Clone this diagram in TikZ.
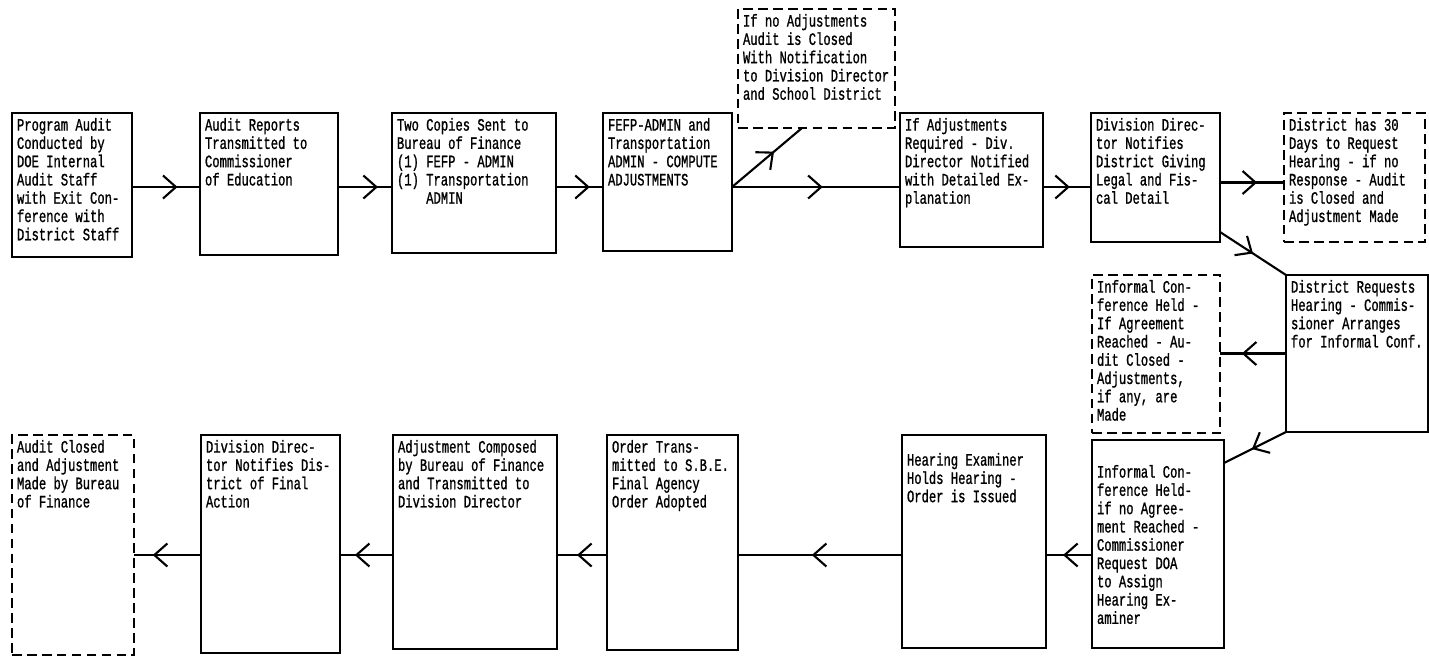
\documentclass[tikz,border=0pt]{standalone}
\usepackage{fontspec}
\newfontfamily\typewriter[FakeStretch=0.7, FakeBold=1]{Liberation Mono}
\usetikzlibrary{positioning,arrows.meta,decorations.markings}

\newcommand{\steptext}[3]{\parbox[t][#2][t]{#1}{\raggedright #3}}

\tikzstyle{stepnode} = [draw = black, line width = 1.4pt, inner sep = 0.1cm, outer sep = 0pt, font = \typewriter\fontsize{9.9}{10.4}\selectfont]
\tikzstyle{notenode} = [stepnode, line width = 1pt, dash pattern = on 5.5pt off 3pt]
\tikzset{flowline/.style = {line width = 1.2pt, decoration = {markings, mark = at position #1 with {\arrow{Straight Barb[length=2.6mm, width=4.6mm]}}}, postaction = {decorate}},
	flowline/.default = 0.65}

\begin{document}
\begin{tikzpicture}
			\useasboundingbox (0,0) rectangle (28.58,-13.12);
			\coordinate (row1) at (0,-3.74);
			\coordinate (row3) at (0,-11.1);
			% top row
			\node[stepnode, anchor = north west] (A) at (0.24,-2.26) {\steptext{2.20cm}{2.68cm}{Program Audit\\Conducted by\\DOE Internal\\Audit Staff\\with Exit Con-\\ference with\\District Staff}};
			\node[stepnode, right = 1.36cm of A.north east, anchor = north west] (B) {\steptext{2.56cm}{2.64cm}{Audit Reports\\Transmitted to\\Commissioner\\of Education}};
			\node[stepnode, right = 1.08cm of B.north east, anchor = north west] (C) {\steptext{3.08cm}{2.60cm}{Two Copies Sent to\\Bureau of Finance\\(1) FEFP - ADMIN\\(1) Transportation\\\phantom{(1) }ADMIN}};
			\node[stepnode, right = 0.94cm of C.north east, anchor = north west] (D) {\steptext{2.38cm}{2.56cm}{FEFP-ADMIN and\\Transportation\\ADMIN - COMPUTE\\ADJUSTMENTS}};
			\node[notenode, anchor = north west] (E) at (14.76,-0.18) {\steptext{2.94cm}{2.18cm}{If no Adjustments\\Audit is Closed\\With Notification\\to Division Director\\and School District}};
			\node[stepnode, right = 3.36cm of D.north east, anchor = north west] (F) {\steptext{2.66cm}{2.48cm}{If Adjustments\\Required - Div.\\Director Notified\\with Detailed Ex-\\planation}};
			\node[stepnode, right = 0.96cm of F.north east, anchor = north west] (G) {\steptext{2.38cm}{2.38cm}{Division Direc-\\tor Notifies\\District Giving\\Legal and Fis-\\cal Detail}};
			\node[notenode, right = 1.28cm of G.north east, anchor = north west] (H) {\steptext{2.62cm}{2.38cm}{District has 30\\Days to Request\\Hearing - if no\\Response - Audit\\is Closed and\\Adjustment Made}};
			% middle
			\node[stepnode, anchor = north west] (I) at (25.72,-5.50) {\steptext{2.64cm}{2.94cm}{District Requests\\Hearing - Commis-\\sioner Arranges\\for Informal Conf.}};
			\node[notenode, left = 1.32cm of I.north west, anchor = north east] (J) {\steptext{2.36cm}{2.96cm}{Informal Con-\\ference Held -\\If Agreement\\Reached - Au-\\dit Closed -\\Adjustments,\\if any, are\\Made}};
			% bottom row
			\node[stepnode, below = 0.14cm of J.south west, anchor = north west] (K) {\steptext{2.44cm}{3.96cm}{\vspace*{0.4cm}Informal Con-\\ference Held-\\if no Agree-\\ment Reached -\\Commissioner\\Request DOA\\to Assign\\Hearing Ex-\\aminer}};
			\node[stepnode, left = 0.92cm of K.north west, anchor = north east, yshift = 0.1cm] (L) {\steptext{2.68cm}{4.06cm}{\vspace*{0.26cm}Hearing Examiner\\Holds Hearing -\\Order is Issued}};
			\node[stepnode, left = 3.28cm of L.north west, anchor = north east] (M) {\steptext{2.42cm}{4.10cm}{Order Trans-\\mitted to S.B.E.\\Final Agency\\Order Adopted}};
			\node[stepnode, left = 1.00cm of M.north west, anchor = north east] (N) {\steptext{3.08cm}{4.08cm}{Adjustment Composed\\by Bureau of Finance\\and Transmitted to\\Division Director}};
			\node[stepnode, left = 1.06cm of N.north west, anchor = north east] (O) {\steptext{2.58cm}{4.16cm}{Division Direc-\\tor Notifies Dis-\\trict of Final\\Action}};
			\node[notenode, left = 1.34cm of O.north west, anchor = north east] (P) {\steptext{2.24cm}{4.20cm}{Audit Closed\\and Adjustment\\Made by Bureau\\of Finance}};
			% connectors
			\draw[flowline = 0.67] (A.east |- row1) -- (B.west |- row1);
			\draw[flowline = 0.74] (B.east |- row1) -- (C.west |- row1);
			\draw[flowline = 0.72] (C.east |- row1) -- (D.west |- row1);
			\draw[flowline = 0.54] (D.east |- row1) -- (F.west |- row1);
			\draw[flowline = 0.6] (D.east |- row1) -- ([xshift = 1.28cm]E.south west);
			\draw[flowline = 0.56] (F.east |- row1) -- (G.west |- row1);
			\draw[flowline = 0.58] ([yshift = -0.1cm]G.east) -- ([yshift = -0.1cm]G.east -| H.west);
			\draw[flowline = 0.5] ([yshift = 0.2cm]G.south east) -- (I.north west);
			\draw[flowline = 0.67] (I.west) -- (I.west -| J.east);
			\draw[flowline = 0.55] (I.south west) -- ([yshift = -0.46cm]K.north east);
			\draw[flowline = 0.63] (K.west |- row3) -- (L.east |- row3);
			\draw[flowline = 0.55] (L.west |- row3) -- (M.east |- row3);
			\draw[flowline = 0.6] (M.west |- row3) -- (N.east |- row3);
			\draw[flowline = 0.72] (N.west |- row3) -- (O.east |- row3);
			\draw[flowline = 0.72] (O.west |- row3) -- (P.east |- row3);
		\end{tikzpicture}
\end{document}
